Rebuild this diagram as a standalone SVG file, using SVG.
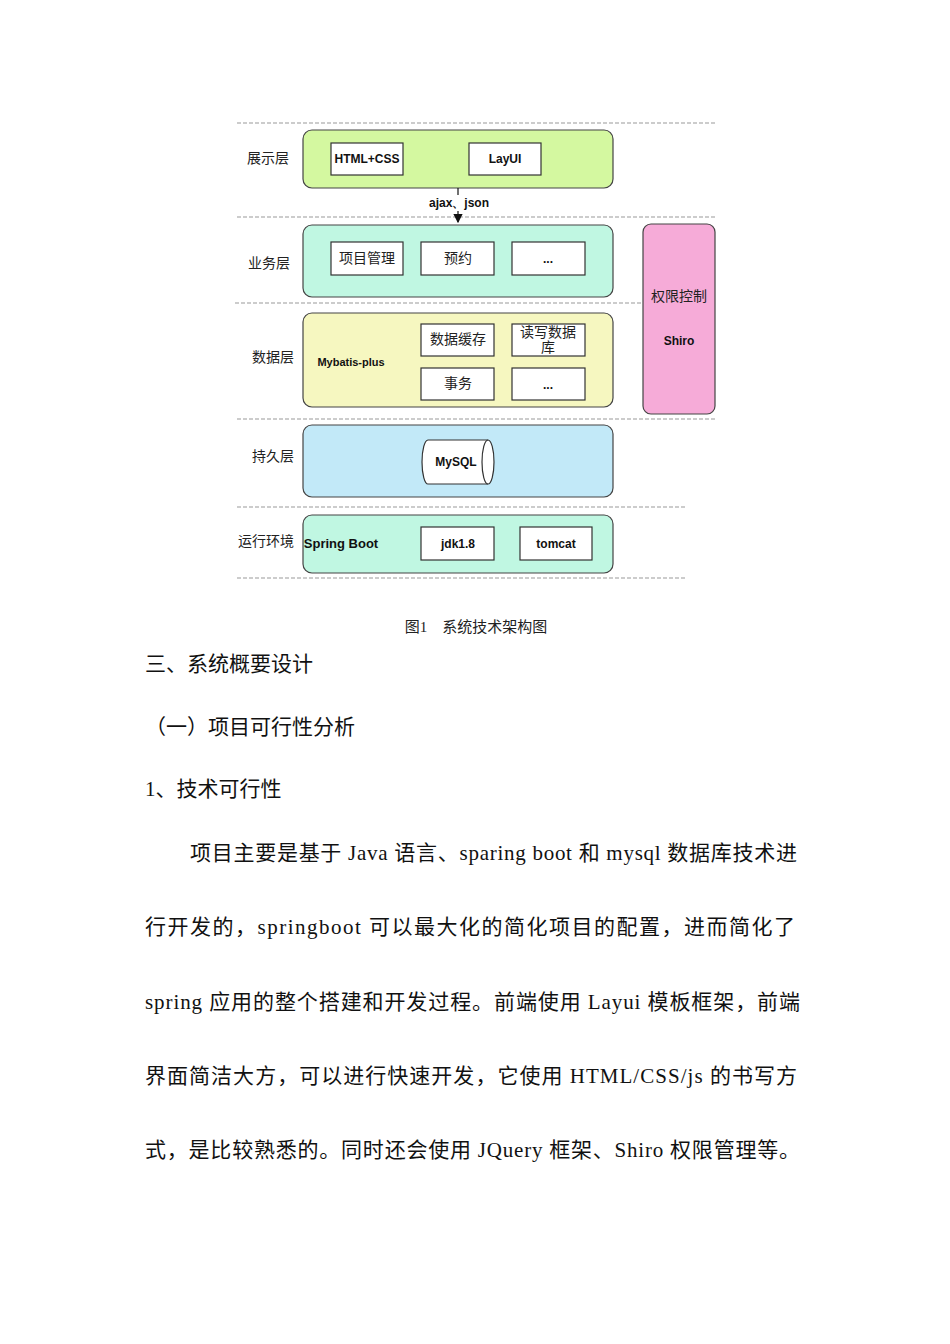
<svg xmlns="http://www.w3.org/2000/svg" width="950" height="1344" viewBox="0 0 950 1344">
<style>
.dl{stroke:#999;stroke-width:1;stroke-dasharray:4 2;fill:none}
.layer{stroke:#444;stroke-width:1.2}
.b{fill:#fff;stroke:#333;stroke-width:1.2}
.en{font-family:"Liberation Sans",Arial,sans-serif;font-weight:bold;font-size:12px;fill:#111;text-anchor:middle}
.cn{font-family:"Liberation Serif","Noto Sans CJK SC",serif;font-size:14px;fill:#222;text-anchor:middle}
.body{font-family:"Liberation Serif","Noto Sans CJK SC",serif;font-size:21px;fill:#111}
</style>
<defs><marker id="ar" markerWidth="8" markerHeight="8" refX="7" refY="4" orient="auto"><path d="M0,0L8,4L0,8z" fill="#111"/></marker></defs>
<rect width="950" height="1344" fill="#fff"/>
<g id="dashes">
<line class="dl" x1="237" y1="123" x2="715" y2="123"/>
<line class="dl" x1="237" y1="217" x2="715" y2="217"/>
<line class="dl" x1="235" y1="303" x2="643" y2="303"/>
<line class="dl" x1="237" y1="419" x2="715" y2="419"/>
<line class="dl" x1="237" y1="507" x2="686" y2="507"/>
<line class="dl" x1="237" y1="578" x2="686" y2="578"/>
</g>
<g id="labels">
<text class="cn" x="268" y="163">展示层</text>
<text class="cn" x="269" y="268">业务层</text>
<text class="cn" x="273" y="362">数据层</text>
<text class="cn" x="273" y="461">持久层</text>
<text class="cn" x="266" y="546">运行环境</text>
</g>
<g id="display">
<rect class="layer" x="303" y="130" width="310" height="58" rx="9" fill="#d4f8a0"/>
<rect class="b" x="331" y="143" width="72" height="32"/><text class="en" x="367" y="163">HTML+CSS</text>
<rect class="b" x="469" y="143" width="72" height="32"/><text class="en" x="505" y="163">LayUI</text>
</g>
<g id="connectors">
<line x1="458" y1="188" x2="458" y2="222" stroke="#111" stroke-width="1.2" marker-end="url(#ar)"/>
<rect x="425" y="195" width="68" height="16" fill="#fff"/>
<text class="en" x="459" y="207">ajax、json</text>
</g>
<g id="business">
<rect class="layer" x="303" y="225" width="310" height="72" rx="9" fill="#c0f7e2"/>
<rect class="b" x="331" y="242" width="72" height="33"/><text class="cn" x="367" y="263">项目管理</text>
<rect class="b" x="421" y="242" width="73" height="33"/><text class="cn" x="458" y="263">预约</text>
<rect class="b" x="512" y="242" width="73" height="33"/><text class="en" x="548" y="263">...</text>
</g>
<g id="data">
<rect class="layer" x="303" y="313" width="310" height="94" rx="9" fill="#f6f7c0"/>
<text class="en" x="351" y="366" style="font-size:11px">Mybatis-plus</text>
<rect class="b" x="421" y="324" width="73" height="32"/><text class="cn" x="458" y="344">数据缓存</text>
<rect class="b" x="512" y="324" width="73" height="32"/><text class="cn" x="548" y="337">读写数据</text><text class="cn" x="548" y="352">库</text>
<rect class="b" x="421" y="368" width="73" height="32"/><text class="cn" x="458" y="388">事务</text>
<rect class="b" x="512" y="368" width="73" height="32"/><text class="en" x="548" y="389">...</text>
</g>
<g id="shiro">
<rect class="layer" x="643" y="224" width="72" height="190" rx="8" fill="#f6abd8"/>
<text class="cn" x="679" y="301">权限控制</text>
<text class="en" x="679" y="345">Shiro</text>
</g>
<g id="persist">
<rect class="layer" x="303" y="425" width="310" height="72" rx="9" fill="#c2e9f8"/>
<path d="M428,440H488A6,22 0 0 1 488,484H428A6,22 0 0 1 428,440Z" fill="#fff" stroke="#333" stroke-width="1.2"/>
<path d="M488,440A6,22 0 0 0 488,484" fill="none" stroke="#333" stroke-width="1.2"/>
<text class="en" x="456" y="466">MySQL</text>
</g>
<g id="runtime">
<rect class="layer" x="303" y="515" width="310" height="58" rx="9" fill="#c0f7e2"/>
<text class="en" x="341" y="548" style="font-size:13px">Spring Boot</text>
<rect class="b" x="421" y="527" width="73" height="33"/><text class="en" x="458" y="548">jdk1.8</text>
<rect class="b" x="520" y="527" width="72" height="33"/><text class="en" x="556" y="548">tomcat</text>
</g>
<text class="cn" x="476" y="632" style="font-size:15px">图1　系统技术架构图</text>
<g id="body">
<text class="body" x="145" y="671">三、系统概要设计</text>
<text class="body" x="145" y="734">（一）项目可行性分析</text>
<text class="body" x="145" y="796">1、技术可行性</text>
<text class="body" x="190" y="860" textLength="607" lengthAdjust="spacing">项目主要是基于 Java 语言、sparing boot 和 mysql 数据库技术进</text>
<text class="body" x="145" y="934" textLength="650" lengthAdjust="spacing">行开发的，springboot 可以最大化的简化项目的配置，进而简化了</text>
<text class="body" x="145" y="1009" textLength="655" lengthAdjust="spacing">spring 应用的整个搭建和开发过程。前端使用 Layui 模板框架，前端</text>
<text class="body" x="145" y="1083" textLength="652" lengthAdjust="spacing">界面简洁大方，可以进行快速开发，它使用 HTML/CSS/js 的书写方</text>
<text class="body" x="145" y="1157" textLength="655" lengthAdjust="spacing">式，是比较熟悉的。同时还会使用 JQuery 框架、Shiro 权限管理等。</text>
</g>
</svg>
